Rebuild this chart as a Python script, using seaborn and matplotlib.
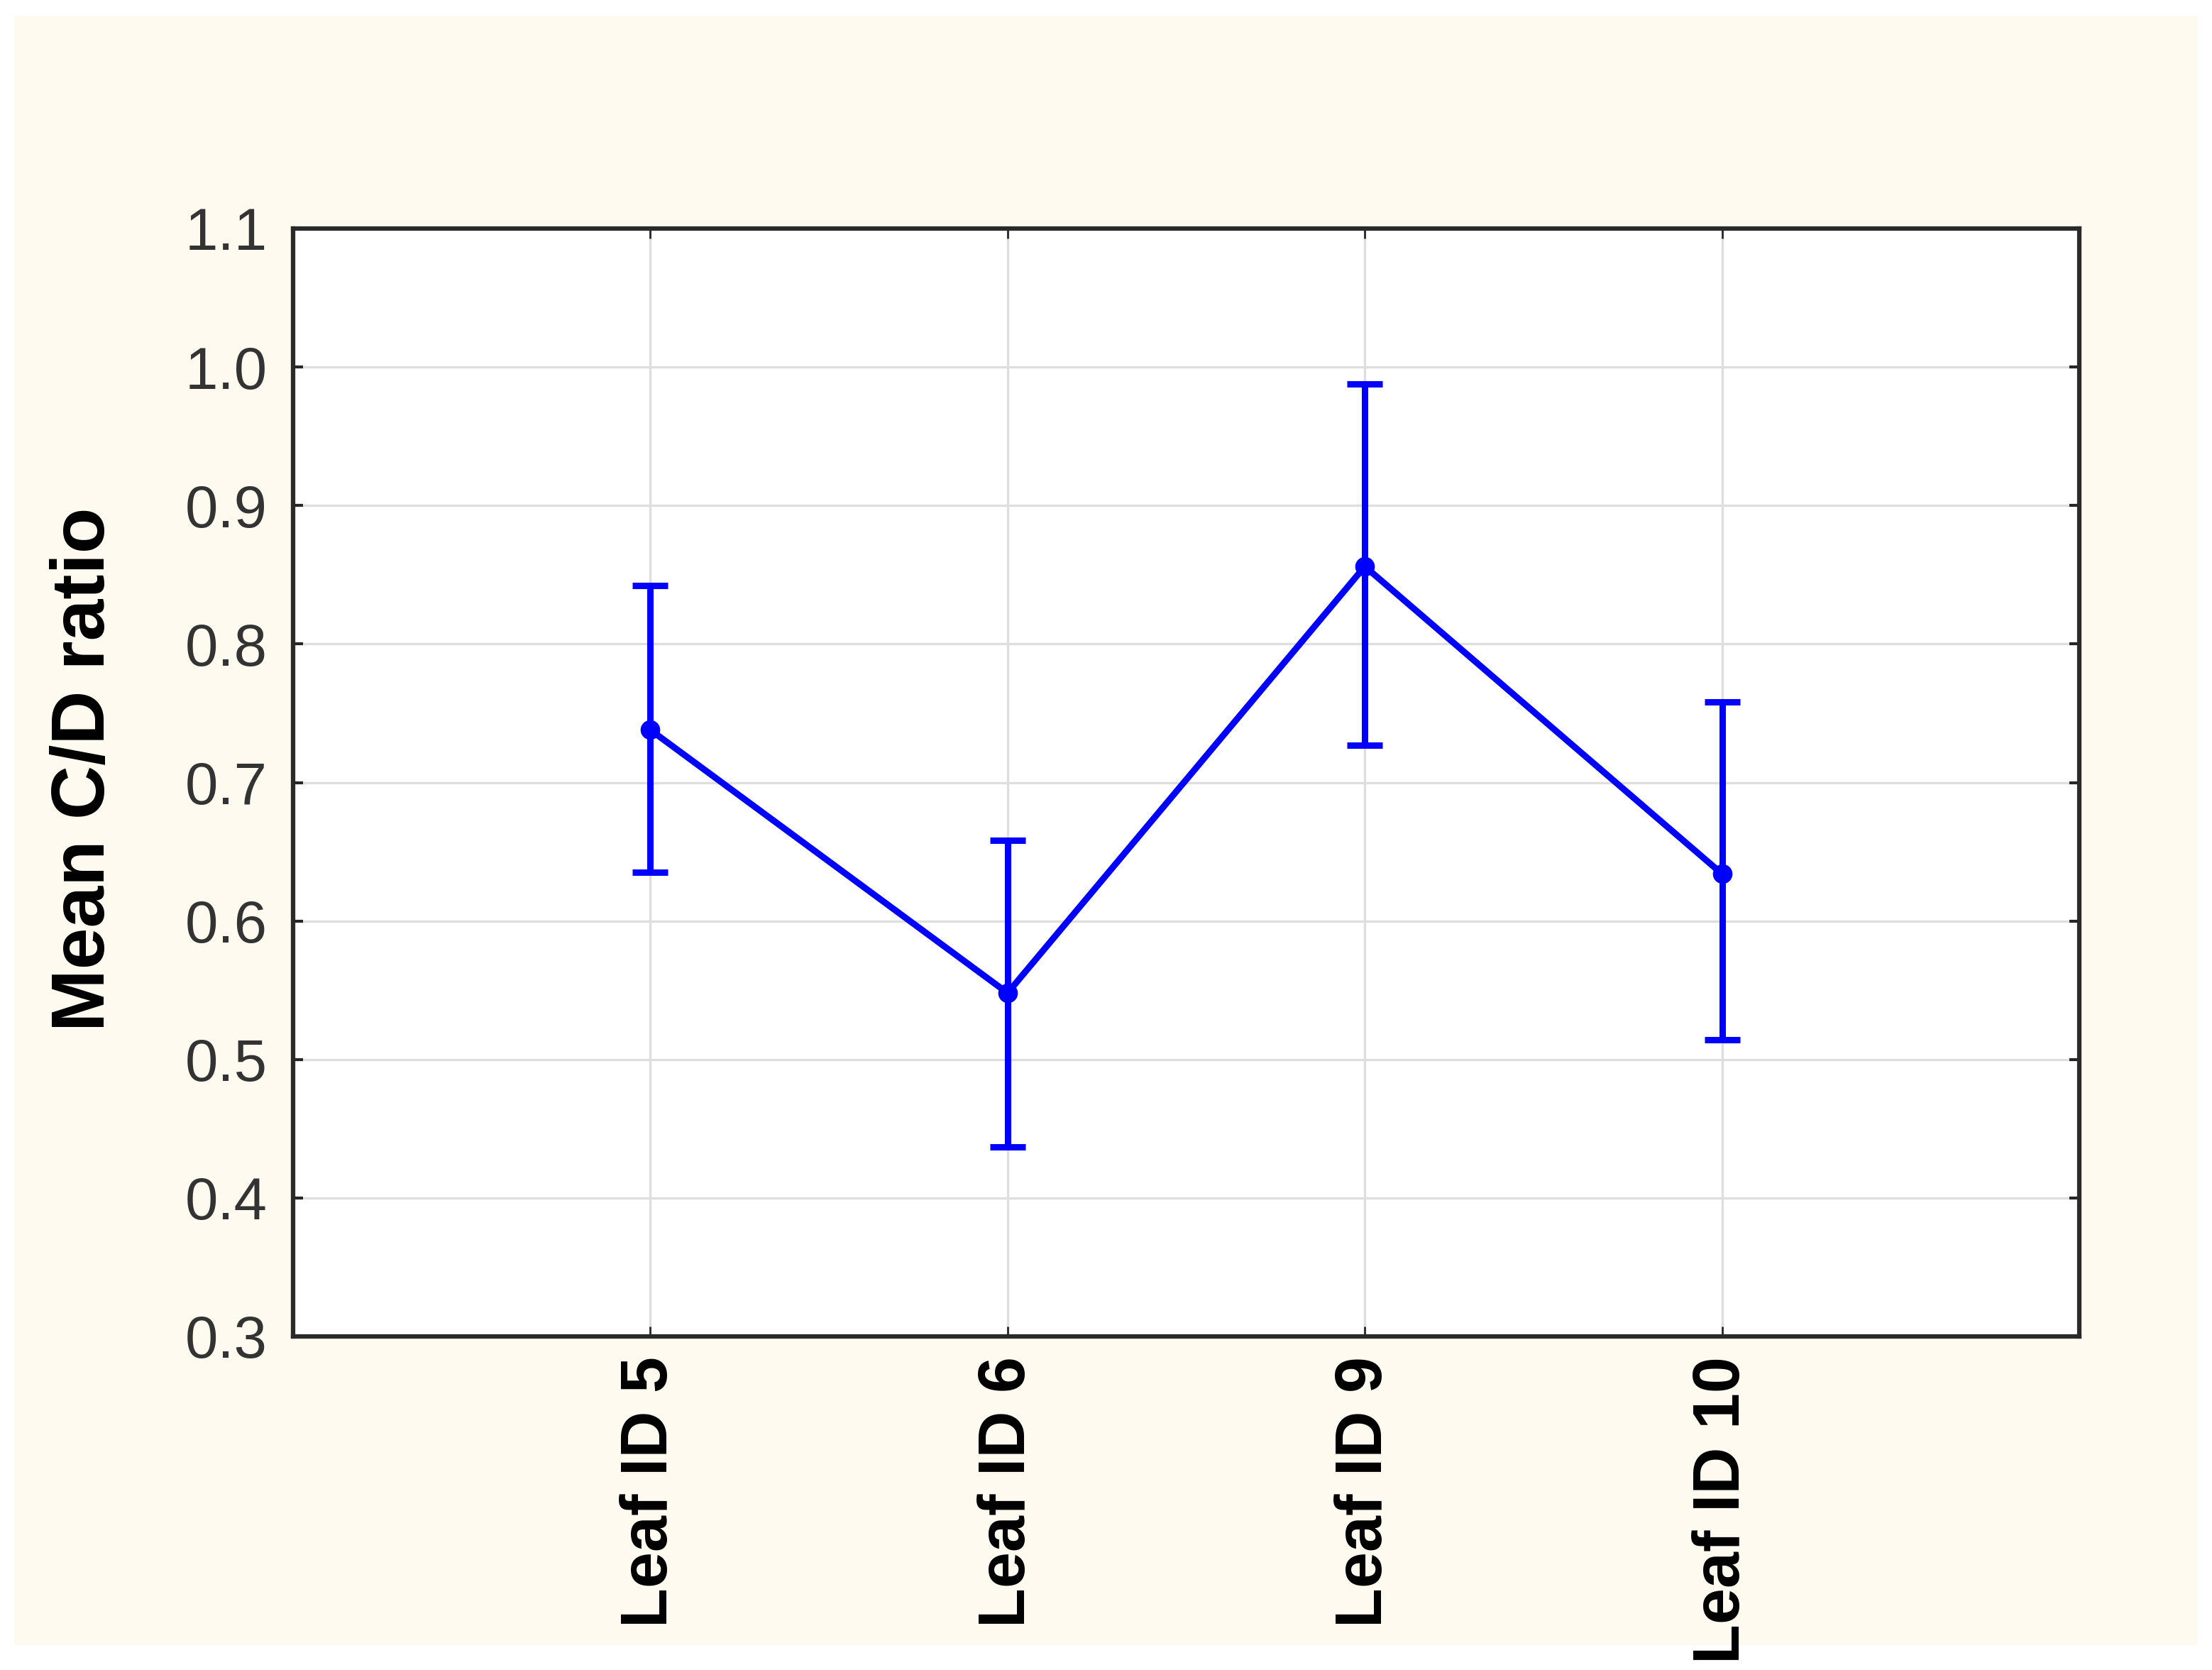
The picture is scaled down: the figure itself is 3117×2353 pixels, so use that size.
import numpy as np
import pandas as pd
import matplotlib.pyplot as plt
import seaborn as sns
from matplotlib.patches import Rectangle

leaves = ['Leaf ID 5', 'Leaf ID 6', 'Leaf ID 9', 'Leaf ID 10']
mean_cd = [0.738, 0.548, 0.856, 0.634]
lower_cd = [0.635, 0.437, 0.727, 0.514]
upper_cd = [0.842, 0.658, 0.988, 0.758]
y_ticks = [0.3, 0.4, 0.5, 0.6, 0.7, 0.8, 0.9, 1.0, 1.1]

df = pd.DataFrame({'leaf': leaves, 'mean': mean_cd,
                   'lower': lower_cd, 'upper': upper_cd})

sns.set_style('white')
plt.rcParams['font.family'] = ['Liberation Sans', 'DejaVu Sans']

fig = plt.figure(figsize=(31.17, 23.53), dpi=100, facecolor='white')
# cream panel behind the chart
fig.patches.append(Rectangle((20 / 3117, 1 - 2318 / 2353), 3077 / 3117, 2296 / 2353,
                             transform=fig.transFigure, facecolor='#fefaf0',
                             edgecolor='none', zorder=-10))
ax = fig.add_axes([413 / 3117, 1 - 1883 / 2353, 2517 / 3117, 1561 / 2353])
ax.set_facecolor('white')

# error bars
yerr = np.array([df['mean'] - df['lower'], df['upper'] - df['mean']])
ax.errorbar(np.arange(len(leaves)), df['mean'], yerr=yerr, fmt='none',
            ecolor='#0000ff', elinewidth=6.5, capsize=18, capthick=6.5, zorder=3)

sns.pointplot(data=df, x='leaf', y='mean', color='#0000ff', ax=ax,
              markers='o', markersize=15, linewidth=6.5, errorbar=None)
for line in ax.lines:
    line.set_zorder(4)

# grid (pointplot switches the categorical grid off)
ax.set_axisbelow(True)
ax.xaxis.grid(True, color='#dedede', linewidth=2.4)
ax.yaxis.grid(True, color='#dedede', linewidth=2.4)

ax.set_xlim(-1, 4)
ax.set_ylim(0.3, 1.1)
ax.set_yticks(y_ticks)
ax.set_yticklabels([f'{v:.1f}' for v in y_ticks])
ax.set_xticks(range(len(leaves)))
ax.set_xticklabels(leaves, rotation=90, fontweight='bold', fontsize=66, color='black')

ax.tick_params(axis='y', direction='in', length=10, width=3, labelsize=60,
               labelcolor='#333333', pad=26, right=True, left=True)
ax.tick_params(axis='x', direction='in', length=10, width=2, pad=20,
               top=True, bottom=True)

for s in ax.spines.values():
    s.set_color('#2a2a2a')
    s.set_linewidth(4.5)
    s.set_visible(True)

ax.set_xlabel('')
ax.set_ylabel('Mean C/D ratio', fontsize=76, fontweight='bold', color='black')
ax.yaxis.set_label_coords(-0.097, 0.512)

fig.savefig('out.png', dpi=100, facecolor='white')
